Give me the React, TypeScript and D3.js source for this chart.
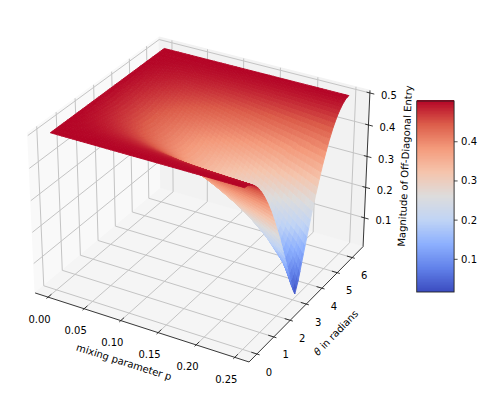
import React, { useEffect, useRef } from 'react'
import * as d3 from 'd3';

// values
const pValues = [0, 0.02, 0.04, 0.06, 0.08, 0.10, 0.12, 0.14, 0.16, 0.18, 0.20, 0.22, 0.24, 0.25];
const thetaValues = [
  0, 0.196, 0.393, 0.589, 0.785, 0.982, 1.178, 1.374, 1.571, 1.767, 1.963, 2.160, 2.356, 2.553, 2.749, 2.945, 3.142,
  3.338, 3.534, 3.731, 3.927, 4.123, 4.320, 4.516, 4.712, 4.909, 5.105, 5.301, 5.498, 5.694, 5.890, 6.087, 6.283
];
// rows go from theta = 0 to pi, the other half is the same picture mirrored
const halfRows = [
  [.500, .500, .500, .500, .500, .500, .500, .500, .500, .500, .500, .500, .500, .500],
  [.500, .500, .500, .499, .499, .499, .499, .499, .498, .498, .498, .498, .498, .498],
  [.500, .499, .498, .498, .497, .496, .495, .495, .494, .493, .492, .492, .491, .490],
  [.500, .498, .497, .495, .493, .492, .490, .488, .486, .485, .483, .481, .479, .478],
  [.500, .497, .494, .491, .488, .485, .482, .479, .476, .473, .470, .467, .464, .462],
  [.500, .496, .491, .486, .482, .477, .473, .468, .463, .458, .453, .448, .443, .441],
  [.500, .494, .488, .481, .475, .468, .461, .455, .448, .441, .434, .427, .419, .416],
  [.500, .492, .484, .475, .467, .458, .449, .440, .431, .421, .412, .402, .392, .387],
  [.500, .490, .480, .469, .458, .447, .436, .424, .412, .400, .387, .374, .361, .354],
  [.500, .488, .476, .463, .450, .436, .422, .408, .393, .377, .361, .344, .326, .317],
  [.500, .486, .472, .457, .441, .425, .409, .391, .373, .354, .334, .313, .290, .278],
  [.500, .484, .468, .451, .433, .415, .396, .376, .354, .332, .307, .281, .252, .236],
  [.500, .483, .465, .446, .426, .406, .384, .361, .337, .310, .282, .249, .212, .191],
  [.500, .481, .462, .442, .420, .398, .374, .349, .322, .292, .259, .220, .174, .145],
  [.500, .480, .460, .438, .416, .392, .367, .340, .310, .277, .240, .196, .138, .098],
  [.500, .480, .459, .437, .413, .389, .362, .334, .303, .268, .228, .179, .111, .049],
  [.500, .480, .458, .436, .412, .387, .361, .332, .300, .265, .224, .173, .100, .016]
];
const magnitude = [...halfRows, ...halfRows.slice(0, -1).reverse()];

const pTicks = [0, 0.05, 0.10, 0.15, 0.20, 0.25];
const thetaTicks = [0, 1, 2, 3, 4, 5, 6];
const zTicks = [0.1, 0.2, 0.3, 0.4, 0.5];
const barTicks = [0.1, 0.2, 0.3, 0.4];

const coolwarmStops = ['#3b4cc0', '#6282ea', '#8db0fe', '#c0d4f5', '#dddcdc', '#f5c4ac', '#f49a7b', '#dc5d4a', '#b40426'];

// elev 30, azim -60, dist 10 and a 4:4:3 box
const boxLen = [1.1429, 1.1429, 0.8571];
const uVec = [0.866, 0.5, 0];
const vVec = [-0.25, 0.433, 0.866];
const nVec = [0.433, -0.75, 0.5];

const xBox = d3.scaleLinear().domain([-0.0182, 0.2682]).range([0, 1]);
const yBox = d3.scaleLinear().domain([-0.458, 6.741]).range([0, 1]);
const zBox = d3.scaleLinear().domain([0.004, 0.508]).range([0, 1]);
const sx = d3.scaleLinear().domain([0, 0.1]).range([202, 202 + 214.5]);
const sy = d3.scaleLinear().domain([0, 0.1]).range([192, 192 - 212.9]);

const dot = (a, b) => a[0] * b[0] + a[1] * b[1] + a[2] * b[2];

const project = (fx, fy, fz) => {
  const r = [(fx - 0.5) * boxLen[0], (fy - 0.5) * boxLen[1], (fz - 0.5) * boxLen[2]];
  const nr = dot(nVec, r);
  const w = 10 - nr;
  return { x: sx(dot(uVec, r) / w), y: sy(dot(vVec, r) / w), depth: nr };
};

const App = () => {
  const svgRef = useRef();

  useEffect(() => {
    drawChart(svgRef.current);
  }, []);

  const drawChart = (element) => {
    const svg = d3.select(element);
    svg.selectAll('*').remove();

    const font = 'DejaVu Sans';
    const line = d3.line().x(d => d.x).y(d => d.y);
    const colorNorm = d3.scaleLinear().domain([0.016, 0.5]).range([0, 1]);
    const colorScale = d3.scaleLinear()
      .domain(coolwarmStops.map((c, i) => i / (coolwarmStops.length - 1)))
      .range(coolwarmStops)
      .interpolate(d3.interpolateRgb);
    const colorOf = (v) => colorScale(colorNorm(v));

    // panes
    const panes = [
      { pts: [[0, 0, 0], [0, 1, 0], [0, 1, 1], [0, 0, 1]], fill: '#f9f9f9' },
      { pts: [[0, 1, 0], [1, 1, 0], [1, 1, 1], [0, 1, 1]], fill: '#f2f2f2' },
      { pts: [[0, 0, 0], [1, 0, 0], [1, 1, 0], [0, 1, 0]], fill: '#f5f5f5' }
    ];
    panes.forEach(pane => {
      svg.append('path')
        .attr('d', line(pane.pts.map(c => project(c[0], c[1], c[2]))) + 'Z')
        .attr('fill', pane.fill)
        .attr('stroke', pane.fill);
    });

    // grid
    const grid = (pts) => {
      svg.append('path')
        .attr('d', line(pts.map(c => project(c[0], c[1], c[2]))))
        .attr('fill', 'none')
        .attr('stroke', '#c4c4c4')
        .attr('stroke-width', 1);
    };
    pTicks.forEach(t => {
      const f = xBox(t);
      grid([[f, 0, 0], [f, 1, 0], [f, 1, 1]]);
    });
    thetaTicks.forEach(t => {
      const f = yBox(t);
      grid([[1, f, 0], [0, f, 0], [0, f, 1]]);
    });
    zTicks.forEach(t => {
      const f = zBox(t);
      grid([[0, 0, f], [0, 1, f], [1, 1, f]]);
    });

    // axis lines and ticks
    const ink = (pts) => {
      svg.append('path')
        .attr('d', line(pts.map(c => project(c[0], c[1], c[2]))))
        .attr('fill', 'none')
        .attr('stroke', '#222')
        .attr('stroke-width', 0.9);
    };
    ink([[0, 0, 0], [1, 0, 0], [1, 1, 0], [1, 1, 1]]);

    const label = (x, y, text) => svg.append('text')
      .attr('x', x)
      .attr('y', y)
      .attr('text-anchor', 'middle')
      .attr('dominant-baseline', 'central')
      .attr('font-family', font)
      .attr('font-size', 10)
      .attr('fill', '#000')
      .text(text);

    pTicks.forEach(t => {
      const f = xBox(t);
      ink([[f, -0.012, 0], [f, 0.025, 0]]);
      const a = project(f, 0, 0);
      label(a.x - 8.5, a.y + 22, d3.format('.2f')(t));
    });
    thetaTicks.forEach(t => {
      const f = yBox(t);
      ink([[0.975, f, 0], [1.012, f, 0]]);
      const a = project(1, f, 0);
      label(a.x + 12, a.y + 18, String(t));
    });
    zTicks.forEach(t => {
      const f = zBox(t);
      ink([[0.985, 1, f], [1.02, 1, f]]);
      const a = project(1, 1, f);
      label(a.x + 19, a.y + 3, d3.format('.1f')(t));
    });

    // axis titles
    label(0, 0, 'mixing parameter p')
      .attr('x', null).attr('y', null)
      .attr('transform', 'translate(124,362) rotate(17.8)');
    const thetaLabel = label(0, 0, '')
      .attr('x', null).attr('y', null)
      .attr('transform', 'translate(335.5,332.5) rotate(-45.7)');
    thetaLabel.append('tspan').attr('font-style', 'italic').text('θ');
    thetaLabel.append('tspan').text(' in radians');
    label(0, 0, 'Magnitude of Off-Diagonal Entry')
      .attr('x', null).attr('y', null)
      .attr('transform', 'translate(405,166) rotate(-87.4)');

    // surface, cells split so the colour runs smoothly, far ones painted first
    const subP = 4;
    const subT = 2;
    const cells = [];
    for (let i = 0; i < thetaValues.length - 1; i++) {
      for (let j = 0; j < pValues.length - 1; j++) {
        const vAt = (a, b) => d3.interpolateNumber(
          d3.interpolateNumber(magnitude[i][j], magnitude[i][j + 1])(b),
          d3.interpolateNumber(magnitude[i + 1][j], magnitude[i + 1][j + 1])(b)
        )(a);
        const pAt = d3.interpolateNumber(pValues[j], pValues[j + 1]);
        const tAt = d3.interpolateNumber(thetaValues[i], thetaValues[i + 1]);
        for (let a = 0; a < subT; a++) {
          for (let b = 0; b < subP; b++) {
            const corners = [[a, b], [a, b + 1], [a + 1, b + 1], [a + 1, b]].map(([ca, cb]) => {
              const v = vAt(ca / subT, cb / subP);
              return { v, ...project(xBox(pAt(cb / subP)), yBox(tAt(ca / subT)), zBox(v)) };
            });
            cells.push({
              corners,
              depth: d3.mean(corners, c => c.depth),
              value: d3.mean(corners, c => c.v)
            });
          }
        }
      }
    }
    cells.sort((a, b) => a.depth - b.depth);
    svg.append('g')
      .selectAll('path')
      .data(cells)
      .enter()
      .append('path')
      .attr('d', d => line(d.corners) + 'Z')
      .attr('fill', d => colorOf(d.value))
      .attr('stroke', d => colorOf(d.value))
      .attr('stroke-width', 0.9)
      .attr('stroke-linejoin', 'round');

    // colorbar
    const barX = 416.7;
    const barW = 37.4;
    const barY = d3.scaleLinear().domain([0.0166, 0.504]).range([292, 101]);
    const levels = d3.range(0, 256).map(i => i / 255);
    const barValue = d3.scaleLinear().domain([0, 1]).range([0.016, 0.5]);
    const barPos = d3.scaleLinear().domain([0, 1]).range([292, 101]);
    svg.append('g')
      .selectAll('rect')
      .data(levels)
      .enter()
      .append('rect')
      .attr('x', barX)
      .attr('width', barW)
      .attr('y', d => barPos(d) - 1.2)
      .attr('height', 1.2)
      .attr('fill', d => colorOf(barValue(d)))
      .attr('shape-rendering', 'crispEdges');
    svg.append('rect')
      .attr('x', barX)
      .attr('y', 101)
      .attr('width', barW)
      .attr('height', 191)
      .attr('fill', 'none')
      .attr('stroke', '#222')
      .attr('stroke-width', 0.9);
    barTicks.forEach(t => {
      svg.append('line')
        .attr('x1', barX + barW)
        .attr('x2', barX + barW + 3.5)
        .attr('y1', barY(t))
        .attr('y2', barY(t))
        .attr('stroke', '#222')
        .attr('stroke-width', 0.8);
      label(barX + barW + 7, barY(t), d3.format('.1f')(t)).attr('text-anchor', 'start');
    });
  };

  return (
    <svg
      ref={svgRef}
      width={483}
      height={394}
      style={{ position: 'absolute', left: 0, top: 0, background: '#fff' }}
    />
  );
};

export default App;
